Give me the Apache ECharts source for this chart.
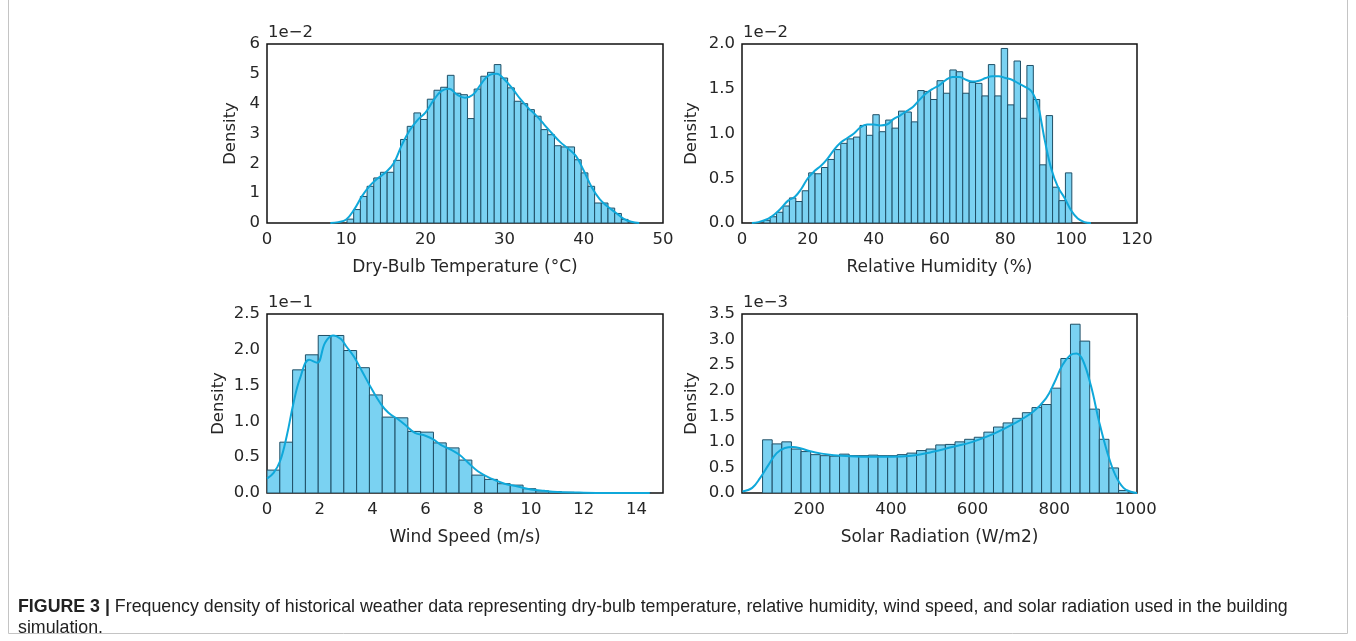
<!DOCTYPE html>
<html>
<head>
<meta charset="utf-8">
<script src="https://cdn.jsdelivr.net/npm/echarts@6/dist/echarts.min.js"></script>
<style>
  html, body { margin: 0; padding: 0; background: #ffffff; }
  #chart { width: 1356px; height: 641px; }
</style>
</head>
<body>
<div id="chart"></div>
<script>
// ---------------- DATA ----------------
// Panel 1: Dry-bulb temperature (density shown in units of 1e-2)
const tempBinStart = 10.1;
const tempBinWidth = 0.845;
const tempDensity = [0.13, 0.45, 0.89, 1.23, 1.51, 1.70, 1.70, 2.10, 2.80, 3.24, 3.69, 3.47,
  4.15, 4.45, 4.55, 4.95, 4.35, 4.30, 3.50,
  4.49, 4.92, 5.05, 5.31, 4.86, 4.53, 4.08, 4.00, 3.80, 3.58, 3.13, 2.96, 2.59, 2.55, 2.55,
  2.12, 1.68, 1.23, 0.67, 0.67, 0.50, 0.32, 0.12];
const tempKdeX = [8, 9, 10, 11, 12, 13, 14, 15, 16, 17, 18, 19, 20, 21, 22, 23, 24, 25, 26, 27, 28, 29,
  30, 31, 32, 33, 34, 35, 36, 37, 38, 39, 40, 41, 42, 43, 44, 45, 46, 47];
const tempKdeY = [0.0, 0.03, 0.12, 0.45, 0.9, 1.25, 1.5, 1.7, 2.0, 2.6, 3.1, 3.45, 3.7, 4.1, 4.42, 4.5,
  4.3, 4.2, 4.3, 4.65, 4.95, 5.0, 4.8, 4.5, 4.15, 3.85, 3.6, 3.3, 3.0, 2.72, 2.5, 2.25, 1.75, 1.2,
  0.8, 0.55, 0.35, 0.15, 0.04, 0.0];
const tempTicks = [0, 10, 20, 30, 40, 50];

// Panel 2: Relative humidity (density in units of 1e-2)
const humBinStart = 6.6;
const humBinWidth = 1.95;
const humDensity = [0.03, 0.07, 0.12, 0.19, 0.28, 0.24, 0.36, 0.56, 0.55, 0.62, 0.71, 0.82,
  0.89, 0.94, 0.96, 1.09, 0.98, 1.21, 1.02, 1.15, 1.06, 1.25, 1.24, 1.13, 1.48, 1.47, 1.38,
  1.59, 1.45, 1.71, 1.69, 1.45, 1.57, 1.56, 1.42, 1.77, 1.42, 1.95, 1.32, 1.81, 1.17, 1.76,
  1.38, 0.65, 1.20, 0.40, 0.25, 0.56];
const humKdeX = [3, 5, 8, 10, 12, 14, 16, 18, 20, 22, 24, 26, 28, 30, 32, 34, 36, 38, 40, 42, 44, 46,
  48, 50, 52, 54, 56, 58, 60, 62, 64, 66, 68, 70, 72, 74, 76, 78, 80, 82, 84, 86, 88, 90, 91, 92,
  94, 96, 98, 100, 102, 104, 106];
const humKdeY = [0.0, 0.01, 0.05, 0.1, 0.17, 0.25, 0.29, 0.38, 0.5, 0.58, 0.64, 0.72, 0.82, 0.9,
  0.95, 1.0, 1.07, 1.1, 1.1, 1.09, 1.1, 1.16, 1.2, 1.25, 1.3, 1.38, 1.45, 1.5, 1.54, 1.6, 1.63,
  1.63, 1.6, 1.58, 1.59, 1.62, 1.64, 1.64, 1.62, 1.6, 1.56, 1.52, 1.47, 1.3, 1.12, 0.92, 0.6, 0.4,
  0.28, 0.14, 0.05, 0.01, 0.0];
const humTicks = [0, 20, 40, 60, 80, 100, 120];

// Panel 3: Wind speed (density in units of 1e-1)
const windBinStart = 0;
const windBinWidth = 0.485;
const windDensity = [0.32, 0.71, 1.72, 1.93, 2.20, 2.20, 1.99, 1.75, 1.37, 1.06, 1.05, 0.86, 0.85,
  0.70, 0.63, 0.46, 0.25, 0.19, 0.13, 0.11, 0.06, 0.03, 0.02, 0.01, 0.006, 0.004, 0.002, 0.001,
  0.001, 0.001];
const windKdeX = [0, 0.25, 0.5, 0.75, 1.0, 1.25, 1.6, 1.9, 2.2, 2.5, 2.8, 3.0, 3.3, 3.6, 4.0, 4.3,
  4.6, 5.0, 5.3, 5.6, 6.0, 6.3, 6.6, 7.0, 7.3, 7.6, 8.0, 8.5, 9.0, 9.5, 10, 10.5, 11, 12, 13, 14.5];
const windKdeY = [0.2, 0.28, 0.45, 0.8, 1.25, 1.6, 1.86, 1.82, 2.1, 2.2, 2.15, 2.05, 1.9, 1.7, 1.43,
  1.25, 1.12, 1.02, 0.93, 0.84, 0.8, 0.75, 0.67, 0.6, 0.53, 0.43, 0.3, 0.2, 0.13, 0.09, 0.05, 0.03,
  0.015, 0.005, 0.001, 0.0];
const windTicks = [0, 2, 4, 6, 8, 10, 12, 14];

// Panel 4: Solar radiation (density in units of 1e-3)
const solarBinStart = 85.4;
const solarBinWidth = 23.58;
const solarDensity = [1.04, 0.96, 1.00, 0.86, 0.81, 0.75, 0.73, 0.72, 0.76, 0.73, 0.73, 0.74, 0.73,
  0.73, 0.75, 0.78, 0.83, 0.86, 0.94, 0.95, 1.00, 1.05, 1.09, 1.19, 1.29, 1.37, 1.46, 1.57, 1.67,
  1.73, 2.05, 2.63, 3.30, 2.97, 1.64, 1.05, 0.49, 0.05];
const solarKdeX = [36, 60, 80, 100, 120, 140, 160, 180, 200, 230, 260, 300, 350, 400, 450, 500, 550,
  600, 650, 700, 750, 780, 800, 820, 840, 855, 870, 890, 910, 930, 950, 970, 990, 1003];
const solarKdeY = [0.03, 0.1, 0.3, 0.55, 0.78, 0.88, 0.9, 0.87, 0.82, 0.77, 0.74, 0.72, 0.71, 0.71,
  0.73, 0.8, 0.9, 1.0, 1.15, 1.35, 1.6, 1.85, 2.15, 2.5, 2.7, 2.73, 2.6, 2.1, 1.4, 0.8, 0.35, 0.1,
  0.02, 0.0];
const solarTicks = [200, 400, 600, 800, 1000];

// ---------------- CHART ----------------
const FONT = 'DejaVu Sans';
const TXT = '#262626';
const FS = 16.5;
const BAR_FILL = '#7ad2f2';
const BAR_EDGE = '#1f4f66';
const KDE_COLOR = '#0fa8da';

function binsToData(start, width, values) {
  return values.map((v, i) => [start + i * width, start + (i + 1) * width, v]);
}
function pairs(xs, ys) { return xs.map((x, i) => [x, ys[i]]); }

const panels = [
  { grid: { left: 267, top: 44, width: 396, height: 179 },
    xName: 'Dry-Bulb Temperature (°C)', xMin: 0, xMax: 50, xTicks: tempTicks,
    yMax: 6, yInt: 1, yDec: 0, yGap: 28, offset: '1e\u22122',
    bins: binsToData(tempBinStart, tempBinWidth, tempDensity), kde: pairs(tempKdeX, tempKdeY) },
  { grid: { left: 742, top: 44, width: 395, height: 179 },
    xName: 'Relative Humidity (%)', xMin: 0, xMax: 120, xTicks: humTicks,
    yMax: 2.0, yInt: 0.5, yDec: 1, yGap: 42, offset: '1e\u22122',
    bins: binsToData(humBinStart, humBinWidth, humDensity), kde: pairs(humKdeX, humKdeY) },
  { grid: { left: 267, top: 314, width: 396, height: 179 },
    xName: 'Wind Speed (m/s)', xMin: 0, xMax: 15, xTicks: windTicks,
    yMax: 2.5, yInt: 0.5, yDec: 1, yGap: 40, offset: '1e\u22121',
    bins: binsToData(windBinStart, windBinWidth, windDensity), kde: pairs(windKdeX, windKdeY) },
  { grid: { left: 742, top: 314, width: 395, height: 179 },
    xName: 'Solar Radiation (W/m2)', xMin: 35, xMax: 1003, xTicks: solarTicks,
    yMax: 3.5, yInt: 0.5, yDec: 1, yGap: 42, offset: '1e\u22123',
    bins: binsToData(solarBinStart, solarBinWidth, solarDensity), kde: pairs(solarKdeX, solarKdeY) }
];

const grids = [], xAxes = [], yAxes = [], series = [], graphics = [];

panels.forEach((p, i) => {
  grids.push(Object.assign({ show: true, borderColor: '#111', borderWidth: 1.5,
    backgroundColor: 'transparent', containLabel: false }, p.grid));
  xAxes.push({
    type: 'value', gridIndex: i, min: p.xMin, max: p.xMax,
    name: p.xName, nameLocation: 'middle', nameGap: 36,
    nameTextStyle: { fontFamily: FONT, fontSize: 17, color: TXT },
    axisLine: { show: false }, axisTick: { show: false }, splitLine: { show: false },
    axisLabel: { customValues: p.xTicks, fontFamily: FONT, fontSize: FS, color: TXT, margin: 8,
      formatter: v => String(v) }
  });
  yAxes.push({
    type: 'value', gridIndex: i, min: 0, max: p.yMax, interval: p.yInt,
    name: 'Density', nameLocation: 'middle', nameGap: p.yGap, nameRotate: 90,
    nameTextStyle: { fontFamily: FONT, fontSize: FS, color: TXT },
    axisLine: { show: false }, axisTick: { show: false }, splitLine: { show: false },
    axisLabel: { fontFamily: FONT, fontSize: FS, color: TXT, margin: 7,
      formatter: v => (+v).toFixed(p.yDec) }
  });
  series.push({
    type: 'custom', xAxisIndex: i, yAxisIndex: i, clip: true,
    encode: { x: [0, 1], y: 2 },
    data: p.bins,
    renderItem: (params, api) => {
      const a = api.coord([api.value(0), api.value(2)]);
      const b = api.coord([api.value(1), 0]);
      return { type: 'rect',
        shape: { x: a[0], y: a[1], width: b[0] - a[0], height: b[1] - a[1] },
        style: { fill: BAR_FILL, stroke: BAR_EDGE, lineWidth: 1 } };
    },
    z: 2
  });
  series.push({
    type: 'line', xAxisIndex: i, yAxisIndex: i, data: p.kde, smooth: 0.4,
    showSymbol: false, symbol: 'none', clip: true,
    lineStyle: { color: KDE_COLOR, width: 2 }, z: 3, silent: true
  });
  graphics.push({
    type: 'text', left: p.grid.left + 1, top: p.grid.top - 20,
    style: { text: p.offset, fontFamily: FONT, fontSize: FS, fill: TXT }
  });
});

// frame around the figure
graphics.push({
  type: 'polyline', silent: true,
  shape: { points: [[8.5, 0], [8.5, 633.5], [1347.5, 633.5], [1347.5, 0]] },
  style: { stroke: '#c4c4c4', lineWidth: 1, fill: null }
});
// caption
graphics.push({
  type: 'text', left: 18, top: 598,
  style: {
    text: '{b|FIGURE 3 |} Frequency density of historical weather data representing dry-bulb temperature, relative humidity, wind speed, and solar radiation used in the building',
    rich: { b: { fontWeight: 'bold', fontFamily: 'Liberation Sans', fontSize: 17.8, fill: '#222' } },
    fontFamily: 'Liberation Sans', fontSize: 17.8, fill: '#222'
  }
});
graphics.push({
  type: 'text', left: 18, top: 619,
  style: { text: 'simulation.', fontFamily: 'Liberation Sans', fontSize: 17.8, fill: '#222' }
});

const chart = echarts.init(document.getElementById('chart'), null, { renderer: 'canvas' });
chart.setOption({
  animation: false,
  backgroundColor: '#ffffff',
  grid: grids, xAxis: xAxes, yAxis: yAxes, series: series, graphic: graphics
});
</script>
</body>
</html>
